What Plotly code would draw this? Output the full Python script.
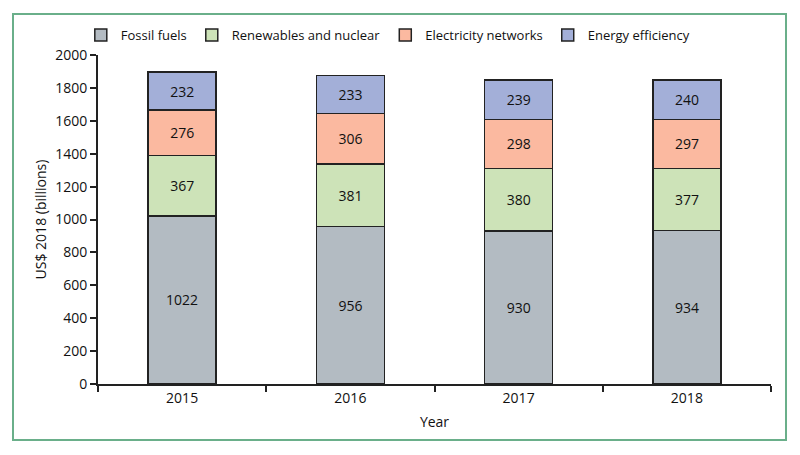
import plotly.graph_objects as go

years = ["2015", "2016", "2017", "2018"]
fossil = [1022, 956, 930, 934]
renew = [367, 381, 380, 377]
elec = [276, 306, 298, 297]
effic = [232, 233, 239, 240]

series = [
    ("Fossil fuels", fossil, "#b3bbc2"),
    ("Renewables and nuclear", renew, "#cde3b8"),
    ("Electricity networks", elec, "#fbb9a0"),
    ("Energy efficiency", effic, "#a3afd8"),
]

FONT = "Open Sans, sans-serif"

fig = go.Figure()
for name, vals, col in series:
    fig.add_trace(go.Bar(
        x=years, y=vals, name=name,
        marker=dict(color=col, line=dict(color="#222222", width=1.5)),
        text=[str(v) for v in vals], textposition="inside",
        insidetextanchor="middle",
        textfont=dict(color="#111111", size=14, family=FONT),
        width=0.405,
    ))

fig.update_layout(
    barmode="stack",
    width=800, height=455,
    margin=dict(l=98, r=29, t=55, b=71, autoexpand=False),
    paper_bgcolor="white", plot_bgcolor="white",
    font=dict(family=FONT, size=14, color="#111111"),
    showlegend=True,
    legend=dict(orientation="h", xref="container", yref="container",
                x=0.101, xanchor="left", y=1 - 35 / 455, yanchor="middle",
                traceorder="normal", font=dict(size=13), itemwidth=30,
                bgcolor="rgba(0,0,0,0)"),
    uniformtext=dict(mode="show", minsize=10),
)
fig.update_yaxes(range=[0, 2000], dtick=200, showgrid=False, zeroline=False,
                 automargin=False,
                 showline=True, linecolor="#222222", linewidth=2,
                 ticks="outside", ticklen=6, tickwidth=1.5, tickcolor="#222222",
                 title=dict(text="US$ 2018 (billions)", font=dict(size=14), standoff=5),
                 tickfont=dict(size=14))
fig.update_xaxes(showgrid=False, showline=True, linecolor="#222222", linewidth=2,
                 automargin=False,
                 ticks="outside", ticklen=6, tickwidth=1.5, tickcolor="#222222",
                 tickson="boundaries",
                 title=dict(text="Year", font=dict(size=14), standoff=11),
                 tickfont=dict(size=14))

fig.add_shape(type="rect", xref="paper", yref="paper",
              x0=-0.1263, x1=1.0223, y0=-0.1702, y1=1.1246,
              line=dict(color="#6aaf8a", width=2), fillcolor="rgba(0,0,0,0)",
              layer="below")

fig.write_html("out.html", config={"displayModeBar": False},
               post_script="document.body.style.margin='0';")
